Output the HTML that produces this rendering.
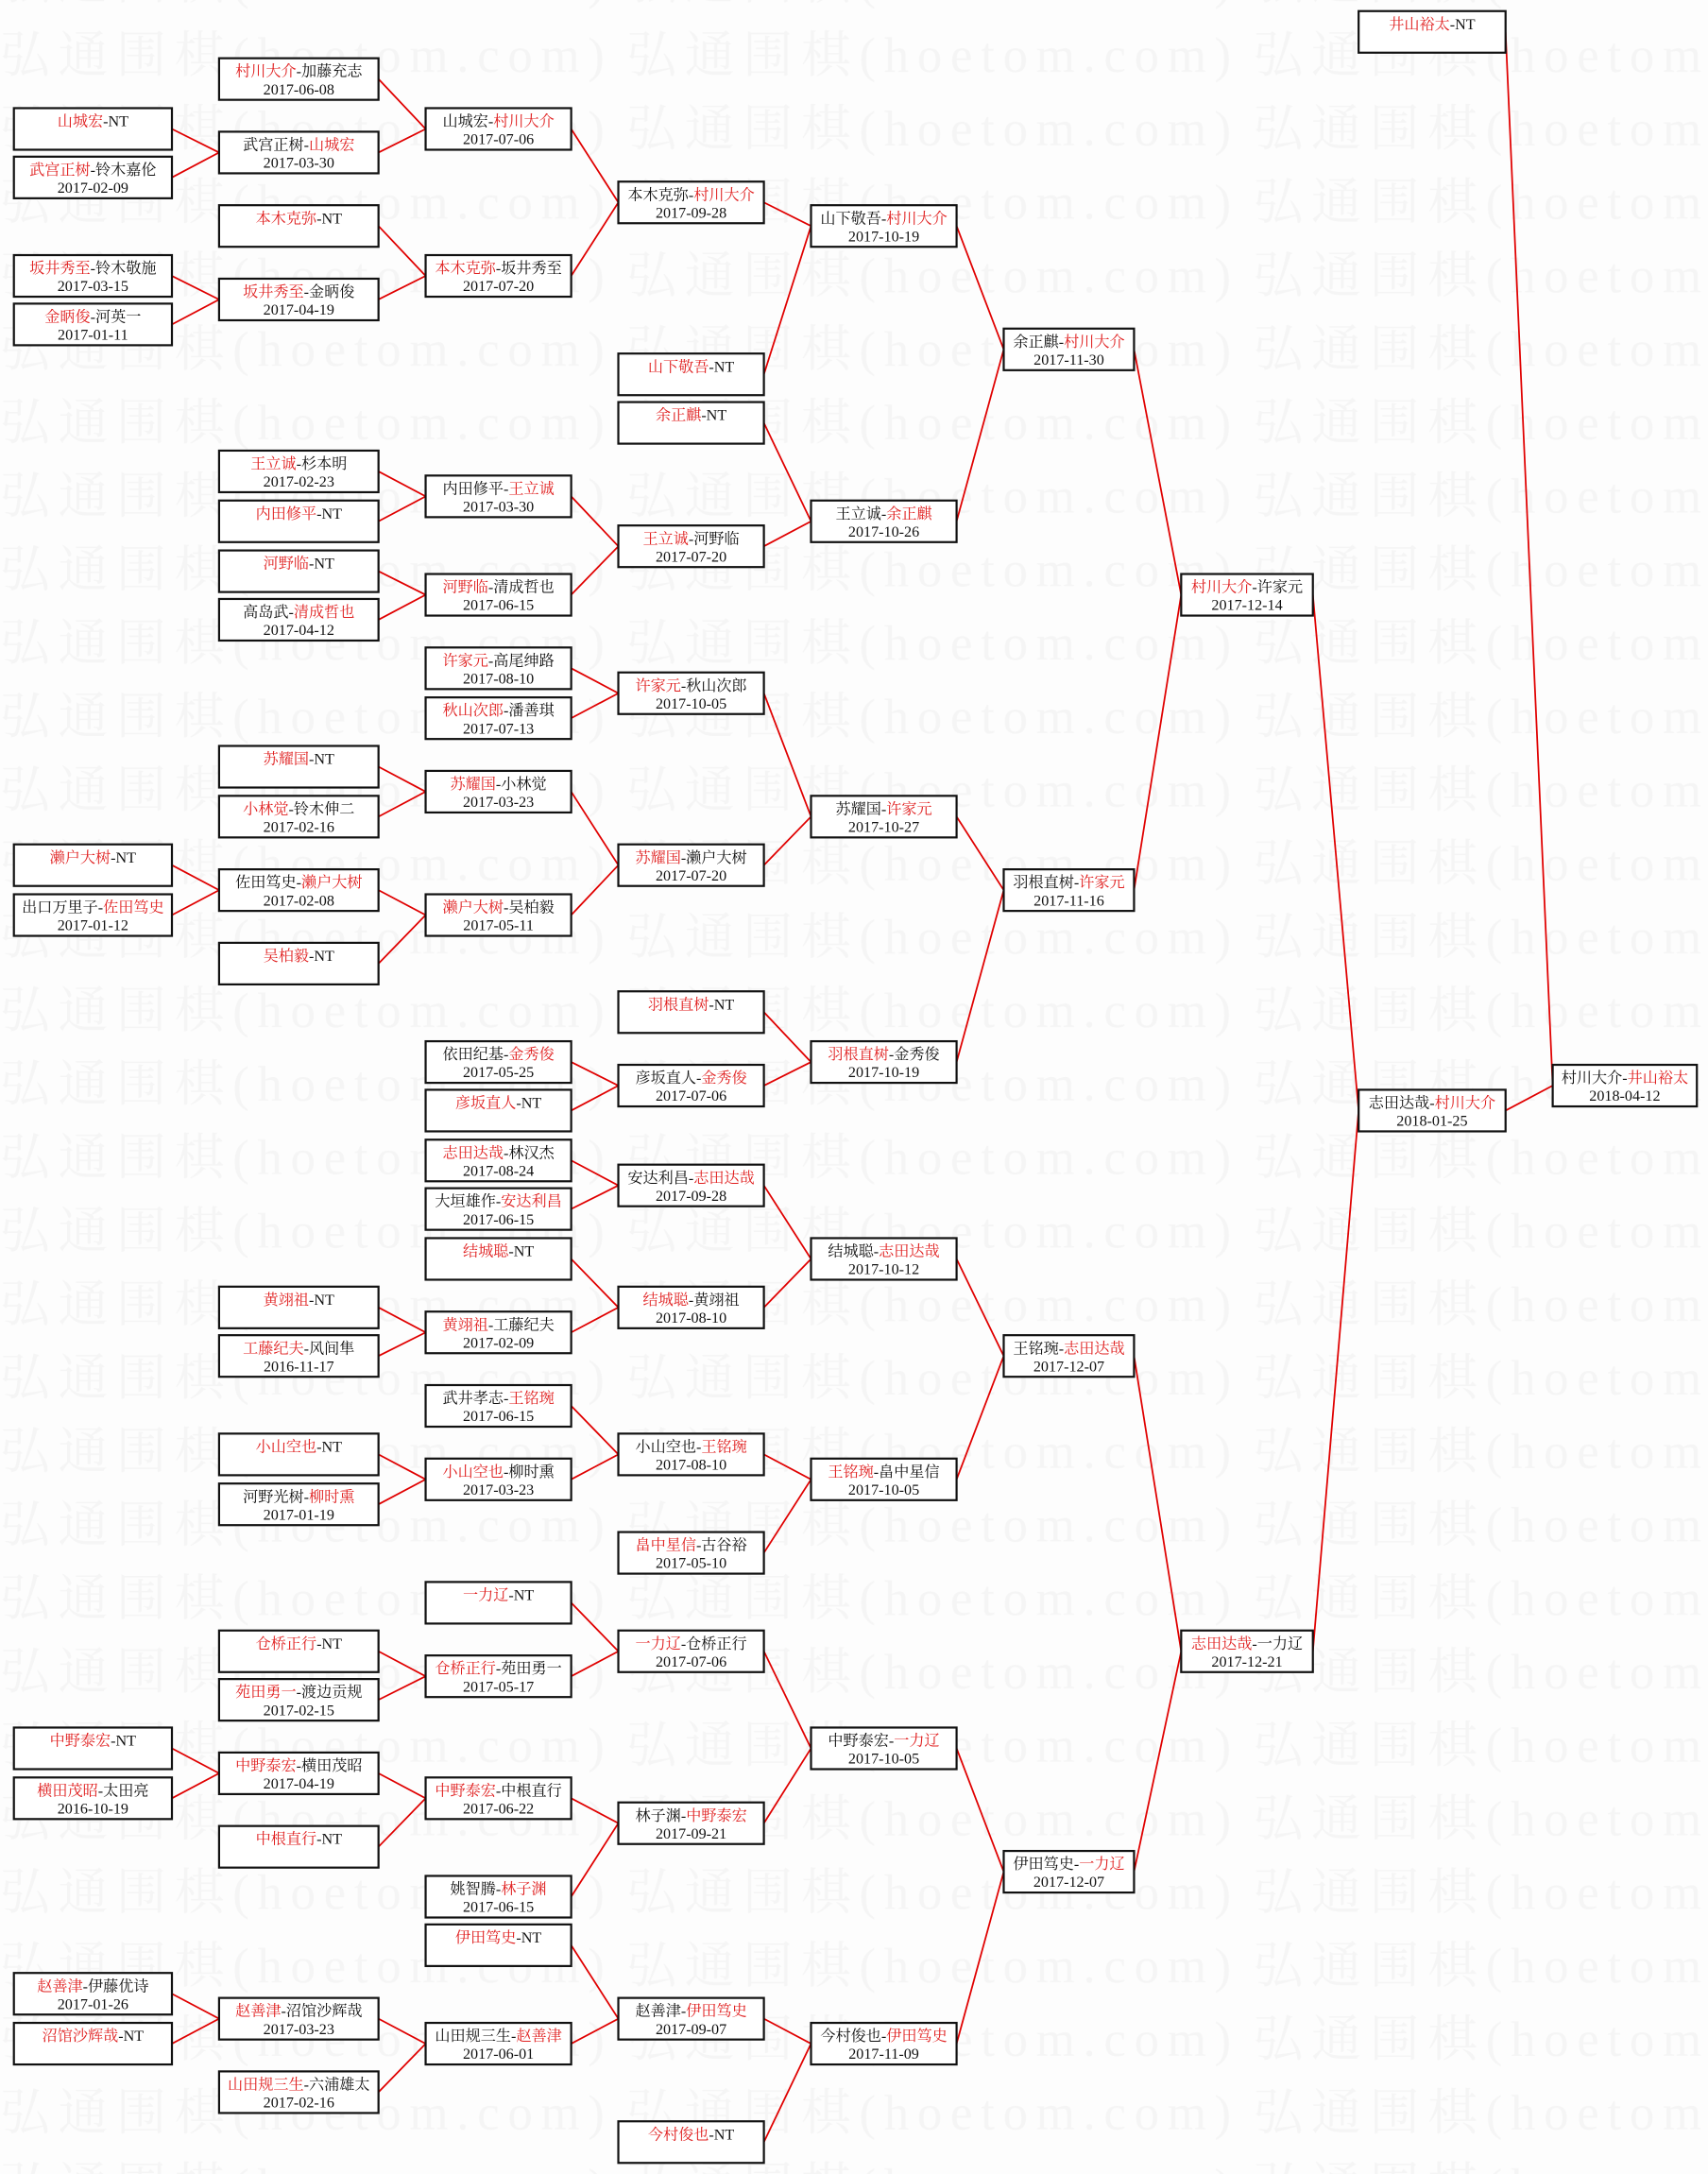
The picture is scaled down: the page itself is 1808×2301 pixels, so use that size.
<!DOCTYPE html>
<html><head><meta charset="utf-8"><style>
html,body{margin:0;padding:0;background:#fdfdfd;}
svg{display:block;}
text{font-family:"Liberation Serif","Noto Serif CJK SC",serif;font-size:11px;text-anchor:middle;fill:#111;}
.wm{font-size:36px;fill:#f5f5f5;text-anchor:start;letter-spacing:4px;}
.r{fill:#e02020;}
rect{fill:#fff;stroke:#111;stroke-width:1.5;}
path{fill:none;stroke:#e00000;stroke-width:1.2;}
</style></head><body>
<svg width="1808" height="2301" viewBox="0 0 1232 1568" xmlns="http://www.w3.org/2000/svg">
<defs><pattern id="wm" width="452" height="53" patternUnits="userSpaceOnUse" y="8"><text class="wm" x="0" y="44" textLength="440" lengthAdjust="spacing">弘通围棋(hoetom.com)</text></pattern></defs>
<rect x="0" y="0" width="1232" height="1568" style="fill:url(#wm);stroke:none"/>
<!-- connectors -->
<path d="M124 93L158 110L124 128M124 199L158 216L124 234M124 624L158 642L124 660M124 1261L158 1279L124 1297M124 1438L158 1456L124 1474"/>
<path d="M273 57L307 93L273 110M273 163L307 199L273 216M273 340L307 358L273 376M273 412L307 429L273 447M273 553L307 571L273 589M273 642L307 660L273 695M273 943L307 961L273 978M273 1049L307 1067L273 1085M273 1191L307 1209L273 1226M273 1279L307 1297L273 1332M273 1456L307 1474L273 1509"/>
<path d="M412 93L446 146L412 199M412 358L446 394L412 429M412 482L446 500L412 518M412 571L446 624L412 660M412 766L446 783L412 801M412 837L446 855L412 872M412 908L446 943L412 961M412 1014L446 1049L412 1067M412 1156L446 1191L412 1209M412 1297L446 1315L412 1368M412 1403L446 1456L412 1474"/>
<path d="M551 146L585 163L551 270M551 305L585 376L551 394M551 500L585 589L551 624M551 730L585 766L551 783M551 855L585 908L551 943M551 1049L585 1067L551 1120M551 1191L585 1261L551 1315M551 1456L585 1474L551 1545"/>
<path d="M690 163L724 252L690 376M690 589L724 642L690 766M690 908L724 978L690 1067M690 1261L724 1350L690 1474"/>
<path d="M818 252L852 429L818 642M818 978L852 1191L818 1350"/>
<path d="M947 429L980 801L947 1191"/>
<path d="M1086 23L1120 783L1086 801"/>
<!-- col0 -->
<rect x="10" y="78" width="114" height="30"/><text x="67" y="91"><tspan class="r">山城宏</tspan>-NT</text>
<rect x="10" y="113" width="114" height="30"/><text x="67" y="126"><tspan class="r">武宫正树</tspan>-铃木嘉伦</text><text x="67" y="139">2017-02-09</text>
<rect x="10" y="184" width="114" height="30"/><text x="67" y="197"><tspan class="r">坂井秀至</tspan>-铃木敬施</text><text x="67" y="210">2017-03-15</text>
<rect x="10" y="219" width="114" height="30"/><text x="67" y="232"><tspan class="r">金昞俊</tspan>-河英一</text><text x="67" y="245">2017-01-11</text>
<rect x="10" y="609" width="114" height="30"/><text x="67" y="622"><tspan class="r">濑户大树</tspan>-NT</text>
<rect x="10" y="645" width="114" height="30"/><text x="67" y="658">出口万里子-<tspan class="r">佐田笃史</tspan></text><text x="67" y="671">2017-01-12</text>
<rect x="10" y="1246" width="114" height="30"/><text x="67" y="1259"><tspan class="r">中野泰宏</tspan>-NT</text>
<rect x="10" y="1282" width="114" height="30"/><text x="67" y="1295"><tspan class="r">横田茂昭</tspan>-太田亮</text><text x="67" y="1308">2016-10-19</text>
<rect x="10" y="1423" width="114" height="30"/><text x="67" y="1436"><tspan class="r">赵善津</tspan>-伊藤优诗</text><text x="67" y="1449">2017-01-26</text>
<rect x="10" y="1459" width="114" height="30"/><text x="67" y="1472"><tspan class="r">沼馆沙辉哉</tspan>-NT</text>
<!-- col1 -->
<rect x="158" y="42" width="115" height="30"/><text x="215.5" y="55"><tspan class="r">村川大介</tspan>-加藤充志</text><text x="215.5" y="68">2017-06-08</text>
<rect x="158" y="95" width="115" height="30"/><text x="215.5" y="108">武宫正树-<tspan class="r">山城宏</tspan></text><text x="215.5" y="121">2017-03-30</text>
<rect x="158" y="148" width="115" height="30"/><text x="215.5" y="161"><tspan class="r">本木克弥</tspan>-NT</text>
<rect x="158" y="201" width="115" height="30"/><text x="215.5" y="214"><tspan class="r">坂井秀至</tspan>-金昞俊</text><text x="215.5" y="227">2017-04-19</text>
<rect x="158" y="325" width="115" height="30"/><text x="215.5" y="338"><tspan class="r">王立诚</tspan>-杉本明</text><text x="215.5" y="351">2017-02-23</text>
<rect x="158" y="361" width="115" height="30"/><text x="215.5" y="374"><tspan class="r">内田修平</tspan>-NT</text>
<rect x="158" y="397" width="115" height="30"/><text x="215.5" y="410"><tspan class="r">河野临</tspan>-NT</text>
<rect x="158" y="432" width="115" height="30"/><text x="215.5" y="445">高岛武-<tspan class="r">清成哲也</tspan></text><text x="215.5" y="458">2017-04-12</text>
<rect x="158" y="538" width="115" height="30"/><text x="215.5" y="551"><tspan class="r">苏耀国</tspan>-NT</text>
<rect x="158" y="574" width="115" height="30"/><text x="215.5" y="587"><tspan class="r">小林觉</tspan>-铃木伸二</text><text x="215.5" y="600">2017-02-16</text>
<rect x="158" y="627" width="115" height="30"/><text x="215.5" y="640">佐田笃史-<tspan class="r">濑户大树</tspan></text><text x="215.5" y="653">2017-02-08</text>
<rect x="158" y="680" width="115" height="30"/><text x="215.5" y="693"><tspan class="r">吴柏毅</tspan>-NT</text>
<rect x="158" y="928" width="115" height="30"/><text x="215.5" y="941"><tspan class="r">黄翊祖</tspan>-NT</text>
<rect x="158" y="963" width="115" height="30"/><text x="215.5" y="976"><tspan class="r">工藤纪夫</tspan>-风间隼</text><text x="215.5" y="989">2016-11-17</text>
<rect x="158" y="1034" width="115" height="30"/><text x="215.5" y="1047"><tspan class="r">小山空也</tspan>-NT</text>
<rect x="158" y="1070" width="115" height="30"/><text x="215.5" y="1083">河野光树-<tspan class="r">柳时熏</tspan></text><text x="215.5" y="1096">2017-01-19</text>
<rect x="158" y="1176" width="115" height="30"/><text x="215.5" y="1189"><tspan class="r">仓桥正行</tspan>-NT</text>
<rect x="158" y="1211" width="115" height="30"/><text x="215.5" y="1224"><tspan class="r">苑田勇一</tspan>-渡边贡规</text><text x="215.5" y="1237">2017-02-15</text>
<rect x="158" y="1264" width="115" height="30"/><text x="215.5" y="1277"><tspan class="r">中野泰宏</tspan>-横田茂昭</text><text x="215.5" y="1290">2017-04-19</text>
<rect x="158" y="1317" width="115" height="30"/><text x="215.5" y="1330"><tspan class="r">中根直行</tspan>-NT</text>
<rect x="158" y="1441" width="115" height="30"/><text x="215.5" y="1454"><tspan class="r">赵善津</tspan>-沼馆沙辉哉</text><text x="215.5" y="1467">2017-03-23</text>
<rect x="158" y="1494" width="115" height="30"/><text x="215.5" y="1507"><tspan class="r">山田规三生</tspan>-六浦雄太</text><text x="215.5" y="1520">2017-02-16</text>
<!-- col2 -->
<rect x="307" y="78" width="105" height="30"/><text x="359.5" y="91">山城宏-<tspan class="r">村川大介</tspan></text><text x="359.5" y="104">2017-07-06</text>
<rect x="307" y="184" width="105" height="30"/><text x="359.5" y="197"><tspan class="r">本木克弥</tspan>-坂井秀至</text><text x="359.5" y="210">2017-07-20</text>
<rect x="307" y="343" width="105" height="30"/><text x="359.5" y="356">内田修平-<tspan class="r">王立诚</tspan></text><text x="359.5" y="369">2017-03-30</text>
<rect x="307" y="414" width="105" height="30"/><text x="359.5" y="427"><tspan class="r">河野临</tspan>-清成哲也</text><text x="359.5" y="440">2017-06-15</text>
<rect x="307" y="467" width="105" height="30"/><text x="359.5" y="480"><tspan class="r">许家元</tspan>-高尾绅路</text><text x="359.5" y="493">2017-08-10</text>
<rect x="307" y="503" width="105" height="30"/><text x="359.5" y="516"><tspan class="r">秋山次郎</tspan>-潘善琪</text><text x="359.5" y="529">2017-07-13</text>
<rect x="307" y="556" width="105" height="30"/><text x="359.5" y="569"><tspan class="r">苏耀国</tspan>-小林觉</text><text x="359.5" y="582">2017-03-23</text>
<rect x="307" y="645" width="105" height="30"/><text x="359.5" y="658"><tspan class="r">濑户大树</tspan>-吴柏毅</text><text x="359.5" y="671">2017-05-11</text>
<rect x="307" y="751" width="105" height="30"/><text x="359.5" y="764">依田纪基-<tspan class="r">金秀俊</tspan></text><text x="359.5" y="777">2017-05-25</text>
<rect x="307" y="786" width="105" height="30"/><text x="359.5" y="799"><tspan class="r">彦坂直人</tspan>-NT</text>
<rect x="307" y="822" width="105" height="30"/><text x="359.5" y="835"><tspan class="r">志田达哉</tspan>-林汉杰</text><text x="359.5" y="848">2017-08-24</text>
<rect x="307" y="857" width="105" height="30"/><text x="359.5" y="870">大垣雄作-<tspan class="r">安达利昌</tspan></text><text x="359.5" y="883">2017-06-15</text>
<rect x="307" y="893" width="105" height="30"/><text x="359.5" y="906"><tspan class="r">结城聪</tspan>-NT</text>
<rect x="307" y="946" width="105" height="30"/><text x="359.5" y="959"><tspan class="r">黄翊祖</tspan>-工藤纪夫</text><text x="359.5" y="972">2017-02-09</text>
<rect x="307" y="999" width="105" height="30"/><text x="359.5" y="1012">武井孝志-<tspan class="r">王铭琬</tspan></text><text x="359.5" y="1025">2017-06-15</text>
<rect x="307" y="1052" width="105" height="30"/><text x="359.5" y="1065"><tspan class="r">小山空也</tspan>-柳时熏</text><text x="359.5" y="1078">2017-03-23</text>
<rect x="307" y="1141" width="105" height="30"/><text x="359.5" y="1154"><tspan class="r">一力辽</tspan>-NT</text>
<rect x="307" y="1194" width="105" height="30"/><text x="359.5" y="1207"><tspan class="r">仓桥正行</tspan>-苑田勇一</text><text x="359.5" y="1220">2017-05-17</text>
<rect x="307" y="1282" width="105" height="30"/><text x="359.5" y="1295"><tspan class="r">中野泰宏</tspan>-中根直行</text><text x="359.5" y="1308">2017-06-22</text>
<rect x="307" y="1353" width="105" height="30"/><text x="359.5" y="1366">姚智腾-<tspan class="r">林子渊</tspan></text><text x="359.5" y="1379">2017-06-15</text>
<rect x="307" y="1388" width="105" height="30"/><text x="359.5" y="1401"><tspan class="r">伊田笃史</tspan>-NT</text>
<rect x="307" y="1459" width="105" height="30"/><text x="359.5" y="1472">山田规三生-<tspan class="r">赵善津</tspan></text><text x="359.5" y="1485">2017-06-01</text>
<!-- col3 -->
<rect x="446" y="131" width="105" height="30"/><text x="498.5" y="144">本木克弥-<tspan class="r">村川大介</tspan></text><text x="498.5" y="157">2017-09-28</text>
<rect x="446" y="255" width="105" height="30"/><text x="498.5" y="268"><tspan class="r">山下敬吾</tspan>-NT</text>
<rect x="446" y="290" width="105" height="30"/><text x="498.5" y="303"><tspan class="r">余正麒</tspan>-NT</text>
<rect x="446" y="379" width="105" height="30"/><text x="498.5" y="392"><tspan class="r">王立诚</tspan>-河野临</text><text x="498.5" y="405">2017-07-20</text>
<rect x="446" y="485" width="105" height="30"/><text x="498.5" y="498"><tspan class="r">许家元</tspan>-秋山次郎</text><text x="498.5" y="511">2017-10-05</text>
<rect x="446" y="609" width="105" height="30"/><text x="498.5" y="622"><tspan class="r">苏耀国</tspan>-濑户大树</text><text x="498.5" y="635">2017-07-20</text>
<rect x="446" y="715" width="105" height="30"/><text x="498.5" y="728"><tspan class="r">羽根直树</tspan>-NT</text>
<rect x="446" y="768" width="105" height="30"/><text x="498.5" y="781">彦坂直人-<tspan class="r">金秀俊</tspan></text><text x="498.5" y="794">2017-07-06</text>
<rect x="446" y="840" width="105" height="30"/><text x="498.5" y="853">安达利昌-<tspan class="r">志田达哉</tspan></text><text x="498.5" y="866">2017-09-28</text>
<rect x="446" y="928" width="105" height="30"/><text x="498.5" y="941"><tspan class="r">结城聪</tspan>-黄翊祖</text><text x="498.5" y="954">2017-08-10</text>
<rect x="446" y="1034" width="105" height="30"/><text x="498.5" y="1047">小山空也-<tspan class="r">王铭琬</tspan></text><text x="498.5" y="1060">2017-08-10</text>
<rect x="446" y="1105" width="105" height="30"/><text x="498.5" y="1118"><tspan class="r">畠中星信</tspan>-古谷裕</text><text x="498.5" y="1131">2017-05-10</text>
<rect x="446" y="1176" width="105" height="30"/><text x="498.5" y="1189"><tspan class="r">一力辽</tspan>-仓桥正行</text><text x="498.5" y="1202">2017-07-06</text>
<rect x="446" y="1300" width="105" height="30"/><text x="498.5" y="1313">林子渊-<tspan class="r">中野泰宏</tspan></text><text x="498.5" y="1326">2017-09-21</text>
<rect x="446" y="1441" width="105" height="30"/><text x="498.5" y="1454">赵善津-<tspan class="r">伊田笃史</tspan></text><text x="498.5" y="1467">2017-09-07</text>
<rect x="446" y="1530" width="105" height="30"/><text x="498.5" y="1543"><tspan class="r">今村俊也</tspan>-NT</text>
<!-- col4 -->
<rect x="585" y="148" width="105" height="30"/><text x="637.5" y="161">山下敬吾-<tspan class="r">村川大介</tspan></text><text x="637.5" y="174">2017-10-19</text>
<rect x="585" y="361" width="105" height="30"/><text x="637.5" y="374">王立诚-<tspan class="r">余正麒</tspan></text><text x="637.5" y="387">2017-10-26</text>
<rect x="585" y="574" width="105" height="30"/><text x="637.5" y="587">苏耀国-<tspan class="r">许家元</tspan></text><text x="637.5" y="600">2017-10-27</text>
<rect x="585" y="751" width="105" height="30"/><text x="637.5" y="764"><tspan class="r">羽根直树</tspan>-金秀俊</text><text x="637.5" y="777">2017-10-19</text>
<rect x="585" y="893" width="105" height="30"/><text x="637.5" y="906">结城聪-<tspan class="r">志田达哉</tspan></text><text x="637.5" y="919">2017-10-12</text>
<rect x="585" y="1052" width="105" height="30"/><text x="637.5" y="1065"><tspan class="r">王铭琬</tspan>-畠中星信</text><text x="637.5" y="1078">2017-10-05</text>
<rect x="585" y="1246" width="105" height="30"/><text x="637.5" y="1259">中野泰宏-<tspan class="r">一力辽</tspan></text><text x="637.5" y="1272">2017-10-05</text>
<rect x="585" y="1459" width="105" height="30"/><text x="637.5" y="1472">今村俊也-<tspan class="r">伊田笃史</tspan></text><text x="637.5" y="1485">2017-11-09</text>
<!-- col5 -->
<rect x="724" y="237" width="94" height="30"/><text x="771" y="250">余正麒-<tspan class="r">村川大介</tspan></text><text x="771" y="263">2017-11-30</text>
<rect x="724" y="627" width="94" height="30"/><text x="771" y="640">羽根直树-<tspan class="r">许家元</tspan></text><text x="771" y="653">2017-11-16</text>
<rect x="724" y="963" width="94" height="30"/><text x="771" y="976">王铭琬-<tspan class="r">志田达哉</tspan></text><text x="771" y="989">2017-12-07</text>
<rect x="724" y="1335" width="94" height="30"/><text x="771" y="1348">伊田笃史-<tspan class="r">一力辽</tspan></text><text x="771" y="1361">2017-12-07</text>
<!-- col6 -->
<rect x="852" y="414" width="95" height="30"/><text x="899.5" y="427"><tspan class="r">村川大介</tspan>-许家元</text><text x="899.5" y="440">2017-12-14</text>
<rect x="852" y="1176" width="95" height="30"/><text x="899.5" y="1189"><tspan class="r">志田达哉</tspan>-一力辽</text><text x="899.5" y="1202">2017-12-21</text>
<!-- col7 -->
<rect x="980" y="8" width="106" height="30"/><text x="1033" y="21"><tspan class="r">井山裕太</tspan>-NT</text>
<rect x="980" y="786" width="106" height="30"/><text x="1033" y="799">志田达哉-<tspan class="r">村川大介</tspan></text><text x="1033" y="812">2018-01-25</text>
<!-- col8 -->
<rect x="1120" y="768" width="104" height="30"/><text x="1172" y="781">村川大介-<tspan class="r">井山裕太</tspan></text><text x="1172" y="794">2018-04-12</text>
</svg>
</body></html>
